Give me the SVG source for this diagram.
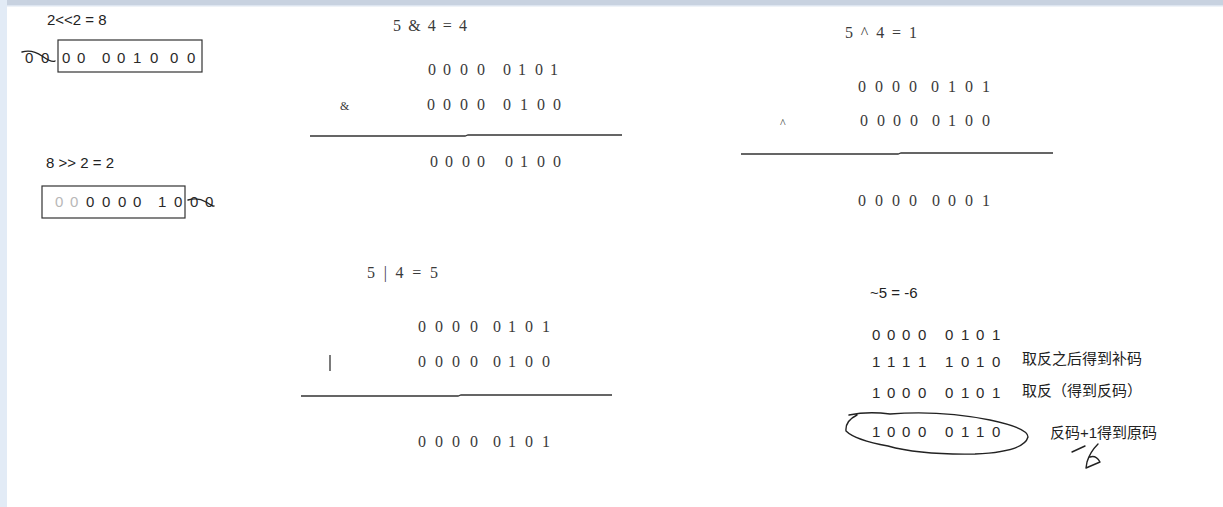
<svg xmlns="http://www.w3.org/2000/svg" width="1223" height="507" viewBox="0 0 1223 507">
<style>
.s{font-family:"Liberation Sans",Arial,sans-serif;font-size:15px;fill:#2a2a2a}
.t{font-family:"Liberation Sans",Arial,sans-serif;font-size:15px;fill:#222}
.m{font-family:"Liberation Serif","Times New Roman",serif;font-size:16px;fill:#3a3a3a}
.c{font-family:"Liberation Sans","Noto Sans CJK SC",sans-serif;font-size:15px;fill:#222}
.ln{stroke:#333;stroke-width:1.3;fill:none}
.hw{stroke:#222;stroke-width:1.4;fill:none;stroke-linecap:round;stroke-linejoin:round}
</style>
<rect width="1223" height="507" fill="#fff"/>
<rect x="0" y="0" width="1223" height="5" fill="#c8d2e0"/>
<rect x="0" y="5" width="1223" height="1.5" fill="#dde5f0"/>
<rect x="0" y="0" width="7" height="507" fill="#e2ebf6"/>

<g id="shift-left">
<text class="t" x="47" y="25">2&lt;&lt;2 = 8</text>
<rect x="58" y="40" width="144" height="32" fill="none" stroke="#333" stroke-width="1.2"/>
<text class="s" x="62 77 102 117 133 150 170 187" y="63">00001000</text>
<text class="s" x="25 41" y="63">00</text>
<path class="hw" d="M22,52 Q32,49 42,56 T55,61"/>
</g>

<g id="shift-right">
<text class="t" x="46" y="168">8 &gt;&gt; 2 = 2</text>
<rect x="42" y="186" width="143" height="32" fill="none" stroke="#333" stroke-width="1.2"/>
<text class="s" x="55 70" y="207" style="fill:#b8b8b8">00</text>
<text class="s" x="86 102 118 133 158 174" y="207">000010</text>
<text class="s" x="190 205" y="207">00</text>
<path class="hw" d="M188,200 Q198,197 206,202 T214,206"/>
</g>

<g id="and">
<text class="m" x="393" y="31" textLength="74" lengthAdjust="spacing">5 &amp; 4 = 4</text>
<text class="m" x="428 443 460 477 503 518 535 550" y="75">00000101</text>
<text class="m" x="340" y="110" style="font-size:12px">&amp;</text>
<text class="m" x="427 443 460 477 503 520 537 553" y="110">00000100</text>
<path class="ln" d="M310,136 H465 L468,135 H622"/>
<text class="m" x="430 445 462 477 505 520 537 553" y="167">00000100</text>
</g>

<g id="xor">
<text class="m" x="845" y="38" textLength="72" lengthAdjust="spacing">5 ^ 4 = 1</text>
<text class="m" x="858 875 892 909 931 948 965 982" y="92">00000101</text>
<text class="m" x="780" y="127" style="font-size:12px">^</text>
<text class="m" x="860 877 893 910 932 948 965 982" y="126">00000100</text>
<path class="ln" d="M741,154 H898 L901,153 H1053"/>
<text class="m" x="858 875 892 909 932 948 965 982" y="206">00000001</text>
</g>

<g id="or">
<text class="m" x="367" y="278" textLength="71" lengthAdjust="spacing">5 | 4 = 5</text>
<text class="m" x="418 435 452 470 493 508 525 542" y="332">00000101</text>
<path class="ln" d="M330,355 V371"/>
<text class="m" x="418 435 452 470 493 508 525 542" y="367">00000100</text>
<path class="ln" d="M301,396 H458 L461,395 H612"/>
<text class="m" x="418 435 452 470 493 508 525 542" y="447">00000101</text>
</g>

<g id="not">
<text class="t" x="870" y="298">~5 = -6</text>
<text class="s" x="872 887 902 918 945 961 976 992" y="340">00000101</text>
<text class="s" x="872 887 902 918 945 961 976 992" y="367">11111010</text>
<text class="c" x="1022" y="364">取反之后得到补码</text>
<text class="s" x="872 887 902 918 945 961 976 992" y="398">10000101</text>
<text class="c" x="1022" y="396">取反（得到反码）</text>
<text class="s" x="872 887 902 918 945 961 976 992" y="437">10000110</text>
<text class="c" x="1050" y="438">反码+1得到原码</text>
<path class="hw" d="M849,415 Q868,411 890,414 Q940,410 990,420 Q1028,428 1028,437 Q1024,452 975,454 Q920,455 888,446 Q855,440 846,431 Q845,421 857,415"/>
<path class="hw" d="M1072,452 L1085,446"/>
<path class="hw" d="M1098,444 Q1090,452 1087,462 L1086,468 L1100,462 Q1096,455 1090,457"/>
</g>
</svg>
